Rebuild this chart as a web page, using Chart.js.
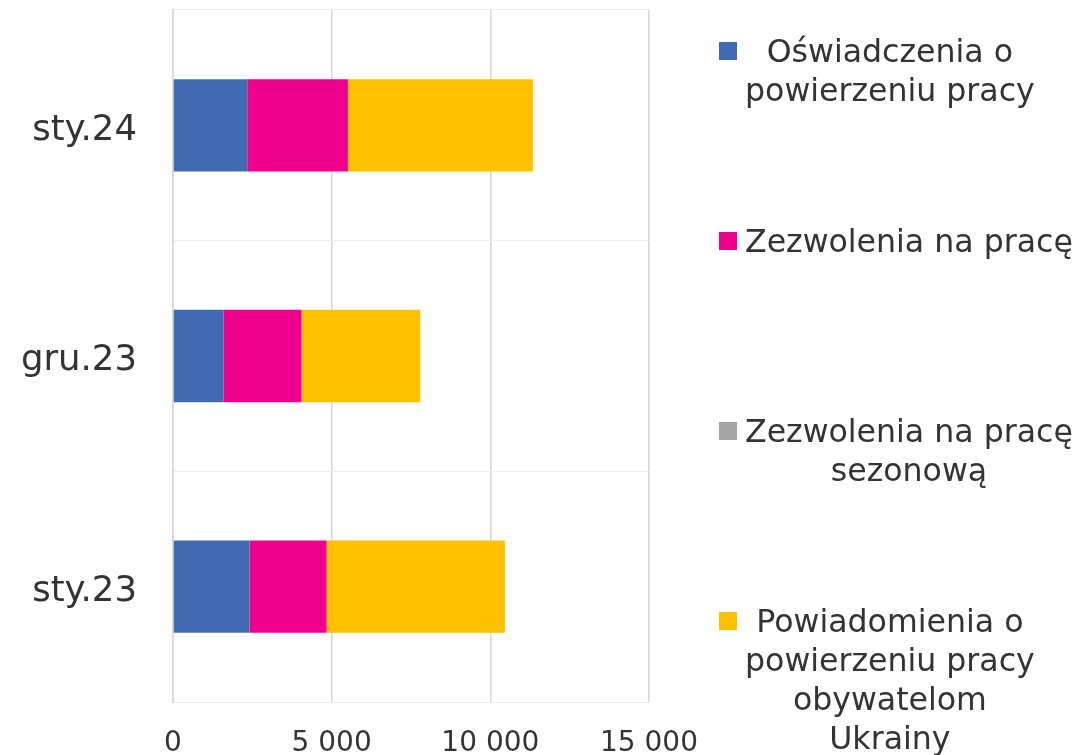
<!DOCTYPE html>
<html>
<head>
<meta charset="utf-8">
<script src="https://cdn.jsdelivr.net/npm/chart.js@4"></script>
<style>
  body { margin: 0; overflow: hidden; background: #fff; }
  #wrap { position: absolute; left: 0; top: 0; width: 1079px; height: 780px; }
  #legend { position: absolute; left: 0; top: 0; font-family: "DejaVu Sans", sans-serif; font-size: 31.6px; line-height: 39px; color: #333; }
  .item { position: absolute; left: 719px; display: flex; align-items: flex-start; }
  .box { width: 18px; height: 18px; margin-top: 10px; margin-right: 8px; flex: none; }
  .txt { white-space: pre; text-align: center; }
</style>
</head>
<body>
<div id="wrap"><canvas id="chart"></canvas></div>
<div id="legend"></div>
<script>
const categories = ['sty.24', 'gru.23', 'sty.23'];
const seriesNames = [
  'Oświadczenia o\npowierzeniu pracy',
  'Zezwolenia na pracę',
  'Zezwolenia na pracę\nsezonową',
  'Powiadomienia o\npowierzeniu pracy\nobywatelom\nUkrainy'
];
const oswiadczenia = [2340, 1590, 2410];
const zezwolenia = [3170, 2460, 2430];
const sezonowe = [0, 0, 0];
const powiadomienia = [5830, 3740, 5620];
const colors = ['#406BB4', '#EC008C', '#A5A5A5', '#FFC000'];

const fmt = v => String(v).replace(/\B(?=(\d{3})+(?!\d))/g, ' ');

const chart = new Chart(document.getElementById('chart'), {
  type: 'bar',
  data: {
    labels: categories,
    datasets: [oswiadczenia, zezwolenia, sezonowe, powiadomienia].map((d, i) => ({
      label: seriesNames[i],
      data: d,
      backgroundColor: colors[i],
      barPercentage: 0.4,
      categoryPercentage: 1
    }))
  },
  options: {
    indexAxis: 'y',
    responsive: true,
    maintainAspectRatio: false,
    animation: false,
    layout: { padding: { top: 10, right: 430, left: 0, bottom: 0 } },
    plugins: { legend: { display: false }, tooltip: { enabled: false } },
    scales: {
      x: {
        stacked: true,
        min: 0,
        max: 15000,
        ticks: {
          stepSize: 5000,
          padding: 25,
          color: '#333',
          font: { family: 'DejaVu Sans', size: 28 },
          callback: v => fmt(v)
        },
        grid: { color: '#d6d6d6', lineWidth: 1.5, drawTicks: false },
        border: { color: '#ebebeb' },
        afterFit: s => { s.height = 78; }
      },
      y: {
        stacked: true,
        ticks: {
          padding: 36,
          labelOffset: 5,
          color: '#333',
          font: { family: 'DejaVu Sans', size: 35.5 }
        },
        grid: { color: '#efefef', drawTicks: false, offset: true },
        border: { color: '#d6d6d6', width: 1.5 },
        afterFit: s => {
          s.width = 173;
          s.paddingTop = 0;
          s.paddingBottom = 0;
        }
      }
    }
  }
});

// legend on the right, built from the datasets
const legend = document.getElementById('legend');
chart.data.datasets.forEach((ds, i) => {
  const item = document.createElement('div');
  item.className = 'item';
  item.style.top = (32 + i * 190) + 'px';
  item.innerHTML = `<div class="box" style="background:${ds.backgroundColor}"></div><div class="txt"></div>`;
  item.querySelector('.txt').textContent = ds.label;
  legend.appendChild(item);
});
</script>
</body>
</html>
